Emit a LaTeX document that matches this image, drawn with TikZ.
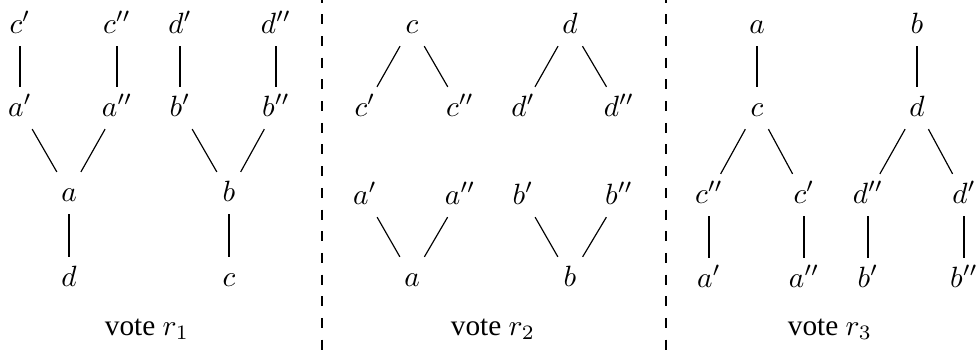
\documentclass[tikz,border=0pt]{standalone}
\usepackage{amsmath,amssymb}
\usepackage{fontspec}
\setmainfont{Liberation Serif}

\tikzset{
	vtx/.style={inner sep=3pt, text height=1.5ex, text depth=.25ex},
	votelabel/.style={anchor=base, inner sep=0pt},
	sepline/.style={line width=0.4pt, dash pattern=on 3.4pt off 4pt, dash phase=2.5pt}
}

\begin{document}
\begin{tikzpicture}[x=0.012cm, y=-0.012cm, line width=0.4pt]
	\useasboundingbox (0,0) rectangle (979,351);

	% Vote 1 nodes
	\node[vtx] (cp1) at (20,25) {$c'$};
	\node[vtx] (cpp1) at (117,25) {$c''$};
	\node[vtx] (dp1) at (180,25) {$d'$};
	\node[vtx] (dpp1) at (276,25) {$d''$};
	\node[vtx] (ap1) at (20,108) {$a'$};
	\node[vtx] (app1) at (117,108) {$a''$};
	\node[vtx] (bp1) at (180,108) {$b'$};
	\node[vtx] (bpp1) at (276,108) {$b''$};
	\node[vtx] (a1) at (69,193) {$a$};
	\node[vtx] (b1) at (229,193) {$b$};
	\node[vtx] (d1) at (69,278) {$d$};
	\node[vtx] (c1) at (229,278) {$c$};
	\node[votelabel] (r1) at (147,335) {vote $r_1$};

	% Vote 2 nodes
	\node[vtx] (c2) at (412,25) {$c$};
	\node[vtx] (d2) at (570,25) {$d$};
	\node[vtx] (cp2) at (365,108) {$c'$};
	\node[vtx] (cpp2) at (460,108) {$c''$};
	\node[vtx] (dp2) at (523,108) {$d'$};
	\node[vtx] (dpp2) at (619,108) {$d''$};
	\node[vtx] (ap2) at (365,196) {$a'$};
	\node[vtx] (app2) at (460,196) {$a''$};
	\node[vtx] (bp2) at (523,196) {$b'$};
	\node[vtx] (bpp2) at (619,196) {$b''$};
	\node[vtx] (a2) at (412,278) {$a$};
	\node[vtx] (b2) at (570,278) {$b$};
	\node[votelabel] (r2) at (493,335) {vote $r_2$};

	% Vote 3 nodes
	\node[vtx] (a3) at (757,25) {$a$};
	\node[vtx] (b3) at (917,25) {$b$};
	\node[vtx] (c3) at (757,108) {$c$};
	\node[vtx] (d3) at (917,108) {$d$};
	\node[vtx] (cpp3) at (709,195) {$c''$};
	\node[vtx] (cp3) at (804,195) {$c'$};
	\node[vtx] (dpp3) at (868,195) {$d''$};
	\node[vtx] (dp3) at (964,195) {$d'$};
	\node[vtx] (ap3) at (709,279) {$a'$};
	\node[vtx] (app3) at (804,279) {$a''$};
	\node[vtx] (bp3) at (868,279) {$b'$};
	\node[vtx] (bpp3) at (964,279) {$b''$};
	\node[votelabel] (r3) at (830,335) {vote $r_3$};

	% Separators
	\coordinate (s1top) at (322,0);
	\coordinate (s1bot) at (322,351);
	\coordinate (s2top) at (666,0);
	\coordinate (s2bot) at (666,351);
	\draw[sepline] (s1top) -- (s1bot);
	\draw[sepline] (s2top) -- (s2bot);

	% Draw edges
	\path[draw]
	(cp1) edge (ap1)
	(cpp1) edge (app1)
	(dp1) edge (bp1)
	(dpp1) edge (bpp1)
	(ap1) edge (a1)
	(app1) edge (a1)
	(bp1) edge (b1)
	(bpp1) edge (b1)
	(a1) edge (d1)
	(b1) edge (c1)

	(c2) edge (cp2)
	(c2) edge (cpp2)
	(d2) edge (dp2)
	(d2) edge (dpp2)
	(ap2) edge (a2)
	(app2) edge (a2)
	(bp2) edge (b2)
	(bpp2) edge (b2)

	(a3) edge (c3)
	(b3) edge (d3)
	(c3) edge (cpp3)
	(c3) edge (cp3)
	(d3) edge (dpp3)
	(d3) edge (dp3)
	(cpp3) edge (ap3)
	(cp3) edge (app3)
	(dpp3) edge (bp3)
	(dp3) edge (bpp3);
\end{tikzpicture}
\end{document}
